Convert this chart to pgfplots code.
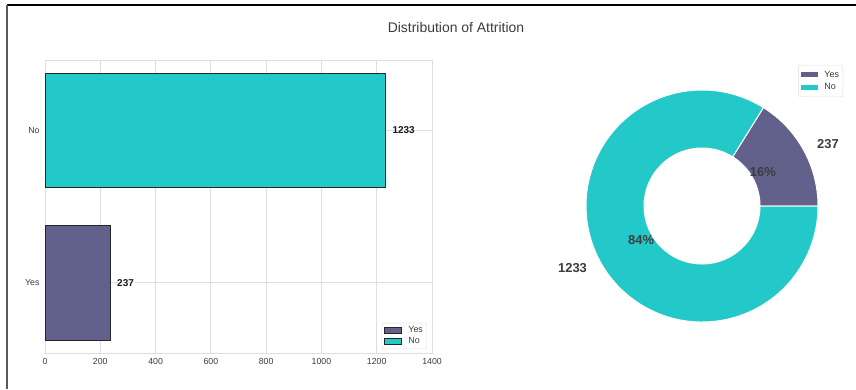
\documentclass[border=0pt]{standalone}
\usepackage{fontspec}
\setmainfont{Liberation Sans}
\usepackage{pgfplots}
\pgfplotsset{compat=1.18}
\definecolor{yescol}{RGB}{97,97,139}
\definecolor{nocol}{RGB}{35,200,200}
\definecolor{gridc}{RGB}{222,222,222}
\definecolor{txt}{RGB}{60,60,60}
\pgfplotsset{
  mylegend/.style={draw=gridc, rounded corners=2bp,
    font=\fontsize{9}{10}\selectfont, text=txt, row sep=0bp,
    inner xsep=2bp, inner ysep=1.5bp,
    nodes={inner sep=1.8bp},
    /tikz/every odd column/.append style={column sep=5bp}},
}
\begin{document}
\begin{tikzpicture}[x=1bp,y=1bp]
\useasboundingbox (0,0) rectangle (856,-389);
\fill[white] (0,0) rectangle (856,-389);
\draw[black, line width=1.8bp] (7,-5) -- (856,-5);
\draw[black!65, line width=1.3bp] (7,-5) -- (7,-389);
\node[font=\fontsize{14}{16}\selectfont, text=txt] at (456,-28) {Distribution of Attrition};
\begin{axis}[
  at={(45bp,-353bp)}, anchor=south west,
  width=387bp, height=293bp, scale only axis,
  xmin=0, xmax=1400, ymin=-0.46, ymax=1.46,
  xtick={0,200,...,1400}, ytick={0,1}, yticklabels={Yes,No},
  xmajorgrids, ymajorgrids, grid style={gridc, line width=0.8bp},
  axis line style={gridc, line width=0.8bp},
  major tick length=0pt,
  xticklabel style={yshift=-2bp},
  yticklabel style={xshift=-2bp},
  tick label style={font=\fontsize{8.8}{10}\selectfont, text=txt},
  /pgf/number format/assume math mode=true,
  /pgf/number format/1000 sep={},
  xbar, bar width=0.75, bar shift=0pt,
  nodes near coords,
  nodes near coords style={font=\bfseries\fontsize{10}{12}\selectfont, anchor=west, xshift=3bp, text=black!90},
  legend style={at={(0.987,0.014)}, anchor=south east, mylegend},
  legend image code/.code={\draw[#1, sharp corners, line width=0.8bp] (0bp,-3bp) rectangle (17bp,3bp);},
  legend cell align=left,
]
\addplot[fill=yescol, draw=black!85, line width=0.8bp] coordinates {(237,0)};
\addplot[fill=nocol, draw=black!85, line width=0.8bp] coordinates {(1233,1)};
\legend{Yes,No}
\end{axis}
\pgfmathsetmacro{\nYes}{237}
\pgfmathsetmacro{\nNo}{1233}
\pgfmathsetmacro{\aYes}{360/(\nYes+\nNo)*\nYes}
\pgfmathsetmacro{\mYes}{\aYes/2}
\pgfmathsetmacro{\mNo}{(\aYes+360)/2}
\begin{axis}[
  at={(702bp,-206bp)}, anchor=origin,
  x=1bp, y=1bp, xmin=-150, xmax=141, ymin=-130, ymax=141,
  hide axis, clip=false,
  legend style={at={(1,1)}, anchor=north east, mylegend, inner ysep=4bp, row sep=1bp},
  legend image code/.code={\fill[#1, draw=none, sharp corners] (0bp,-2.5bp) rectangle (17bp,2.5bp);},
  legend cell align=left,
]
\addlegendimage{fill=yescol, draw=none}
\addlegendentry{Yes}
\addlegendimage{fill=nocol, draw=none}
\addlegendentry{No}
\filldraw[fill=yescol, draw=white, line width=1bp]
  (axis cs:58,0) -- (axis cs:116,0) arc[start angle=0, end angle=\aYes, radius=116bp]
  -- (axis cs:{58*cos(\aYes)},{58*sin(\aYes)}) arc[start angle=\aYes, end angle=0, radius=58bp] -- cycle;
\filldraw[fill=nocol, draw=white, line width=1bp]
  (axis cs:{116*cos(\aYes)},{116*sin(\aYes)}) arc[start angle=\aYes, end angle=360, radius=116bp]
  -- (axis cs:58,0) arc[start angle=360, end angle=\aYes, radius=58bp] -- cycle;
\node[anchor=west, font=\bfseries\fontsize{13}{15}\selectfont, text=txt] at (axis cs:{127.6*cos(\mYes)},{127.6*sin(\mYes)}) {237};
\node[anchor=east, font=\bfseries\fontsize{13}{15}\selectfont, text=txt] at (axis cs:{127.6*cos(\mNo)},{127.6*sin(\mNo)}) {1233};
\node[font=\bfseries\fontsize{13}{15}\selectfont, text=txt] at (axis cs:{69.6*cos(\mYes)},{69.6*sin(\mYes)}) {16\%};
\node[font=\bfseries\fontsize{13}{15}\selectfont, text=txt] at (axis cs:{69.6*cos(\mNo)},{69.6*sin(\mNo)}) {84\%};
\end{axis}
\end{tikzpicture}
\end{document}
